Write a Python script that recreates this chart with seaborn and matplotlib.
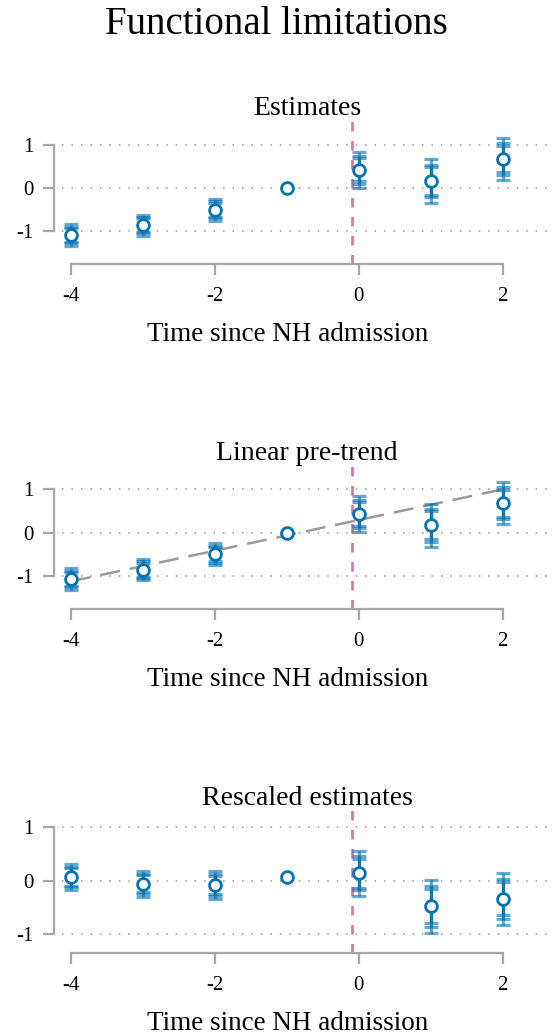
import numpy as np
import pandas as pd
import seaborn as sns
import matplotlib.pyplot as plt

# ---------------- data ----------------
time = [-4, -3, -2, -1, 0, 1, 2]
est = [-1.08, -0.86, -0.50, 0.00, 0.43, 0.17, 0.68]
resc = [0.07, -0.06, -0.08, 0.07, 0.14, -0.48, -0.34]
# CI half-widths (99%, 95%, 90%); reference period has none
hw99 = [0.25, 0.25, 0.26, np.nan, 0.42, 0.50, 0.49]
hw95 = [0.19, 0.19, 0.20, np.nan, 0.32, 0.38, 0.37]
hw90 = [0.16, 0.16, 0.17, np.nan, 0.27, 0.32, 0.31]
trend_x = [-4, 2]
trend_y = [-1.13, 1.00]
panel_titles = ["Estimates", "Linear pre-trend", "Rescaled estimates"]
main_title = "Functional limitations"
xlabel = "Time since NH admission"
xticks = [-4, -2, 0, 2]
yticks = [-1, 0, 1]
event_line = -0.1

# ---------------- style ----------------
sns.set_style("white")
plt.rcParams['font.family'] = ['Liberation Serif', 'DejaVu Serif']
plt.rcParams['text.color'] = 'black'
plt.rcParams['axes.labelcolor'] = 'black'
plt.rcParams['xtick.color'] = 'black'
plt.rcParams['ytick.color'] = 'black'

W, H = 552, 1035
fig = plt.figure(figsize=(W / 100, H / 100), dpi=100)

blue = "#0072B2"
pink = "#CC79A7"
gray = "#a6a6a6"
px = 72 / 100  # points per pixel

panels = [
    dict(y=est, top=118, bot=264, ylim=(-1.76, 1.635), trend=False),
    dict(y=est, top=463, bot=609, ylim=(-1.77, 1.61), trend=True),
    dict(y=resc, top=808, bot=953, ylim=(-1.356, 1.364), trend=False),
]

left_px = 62
for i, p in enumerate(panels):
    ax = fig.add_axes([left_px / W, 1 - p['bot'] / H, (W - left_px) / W, (p['bot'] - p['top']) / H])
    df = pd.DataFrame(dict(t=time, y=p['y'], h99=hw99, h95=hw95, h90=hw90))

    ax.set_xlim(-4.125, 2.685)
    ax.set_ylim(*p['ylim'])

    for yv in yticks:
        ax.axhline(yv, color="#999999", lw=1.1, ls=(0, (1, 5.2)), zorder=0)

    ax.axvline(event_line, color=pink, lw=1.9, ls=(0, (3.6, 3.6)), zorder=1)

    if p['trend']:
        tdf = pd.DataFrame(dict(t=trend_x, y=trend_y))
        sns.lineplot(data=tdf, x='t', y='y', ax=ax, color="#9a9a9a", lw=1.8,
                     linestyle=(0, (8.0, 4.0)), zorder=2)

    d = df.dropna()
    for col in ['h99', 'h95', 'h90']:
        ax.errorbar(d['t'], d['y'], yerr=d[col], fmt='none', ecolor=blue,
                    elinewidth=2.3, capsize=4.8, capthick=2.3, alpha=0.6, zorder=3)

    sns.scatterplot(data=df, x='t', y='y', ax=ax, marker='o', s=72,
                    facecolor='white', edgecolor=blue, linewidth=2.0, zorder=5)

    sns.despine(ax=ax, top=True, right=True)
    ax.spines['left'].set_position(('outward', 8 * px))
    ax.spines['left'].set_bounds(-1, 1)
    ax.spines['bottom'].set_bounds(-4, 2)
    for s in ['left', 'bottom']:
        ax.spines[s].set_color(gray)
        ax.spines[s].set_linewidth(1.6)

    ax.set_xticks(xticks)
    ax.set_xticklabels([str(v) for v in xticks])
    ax.set_yticks(yticks)
    ax.set_yticklabels([str(v) for v in yticks])
    ax.tick_params(axis='both', which='major', length=11 * px, width=1.6,
                   color=gray, labelcolor='black', labelsize=15, direction='out',
                   bottom=True, left=True)
    ax.tick_params(axis='x', pad=8.5)
    ax.tick_params(axis='y', pad=7)

    ax.set_xlabel(xlabel, fontsize=19.5)
    ax.xaxis.set_label_coords((288 - left_px) / (W - left_px), -0.40)
    ax.set_ylabel("")
    ax.set_title(panel_titles[i], fontsize=20, pad=2)

fig.text(0.5, 1 - 34 / H, main_title, ha='center', va='baseline', fontsize=28)

fig.savefig("out.png", dpi=100)
